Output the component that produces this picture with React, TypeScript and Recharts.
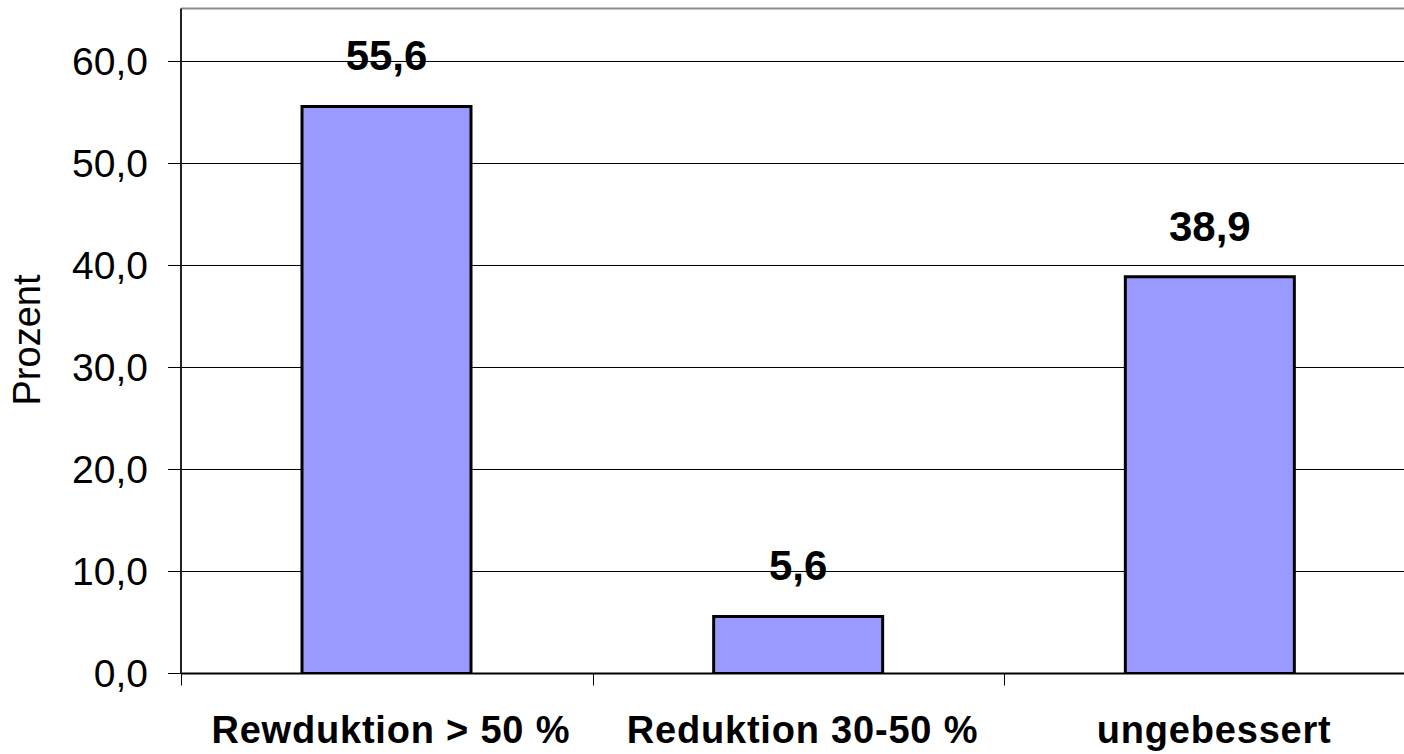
import { BarChart, Bar, XAxis, YAxis, CartesianGrid, LabelList, ReferenceLine } from "recharts";

// Ergebnis nach Behandlung, Anteil in Prozent
const categories = ["Rewduktion > 50 %", "Reduktion 30-50 %", "ungebessert"];
const percentages = [55.6, 5.6, 38.9];
const yTicks = [0, 10, 20, 30, 40, 50, 60];
const Y_MAX = 65.196;

const data = categories.map((name, i) => ({ name, value: percentages[i] }));

const FONT = "'Liberation Sans', Arial, Helvetica, sans-serif";

// chart geometry (half-pixel offsets keep the 1px grid lines sharp)
const CHART_W = 1420;
const CHART_H = 754;
const Y_AXIS_W = 181;
const MARGIN_RIGHT = 4;
const PLOT_W = CHART_W - Y_AXIS_W - MARGIN_RIGHT;
const HALF_BAND = PLOT_W / categories.length / 2;

const fmt = (v: number) => v.toFixed(1).replace(".", ",");

// category label centred under the bar, tick mark on the left band boundary
const CategoryTick = (props: any) => {
  const { x, y, payload } = props;
  const tx = Math.round(x - HALF_BAND) + 0.5;
  return (
    <g>
      <line x1={tx} y1={y} x2={tx} y2={y + 12} stroke="#000" strokeWidth={1} />
      <text
        x={x + 4}
        y={y + 69}
        textAnchor="middle"
        fontFamily={FONT}
        fontSize={38}
        fontWeight="bold"
        letterSpacing={0.8}
        fill="#000"
      >
        {payload.value}
      </text>
    </g>
  );
};

const AxisTitle = () => (
  <text
    x={27}
    y={340}
    transform="rotate(-90, 27, 340)"
    textAnchor="middle"
    dominantBaseline="central"
    fontFamily={FONT}
    fontSize={38}
    fill="#000"
  >
    Prozent
  </text>
);

export default function App() {
  return (
    <div
      style={{
        position: "fixed",
        left: 0,
        top: 0,
        width: 1404,
        height: 754,
        overflow: "hidden",
        background: "#fff",
      }}
    >
      <BarChart
        width={CHART_W}
        height={CHART_H}
        data={data}
        margin={{ top: 8.5, right: MARGIN_RIGHT, bottom: 0, left: 0 }}
      >
        <CartesianGrid vertical={false} stroke="#000" strokeWidth={1} />
        <ReferenceLine y={Y_MAX} stroke="#8c8c8c" strokeWidth={2} />
        <XAxis
          dataKey="name"
          height={80.5}
          axisLine={{ stroke: "#000", strokeWidth: 2 }}
          tickLine={false}
          tickSize={0}
          tickMargin={0}
          interval={0}
          tick={<CategoryTick />}
        />
        <YAxis
          width={Y_AXIS_W}
          domain={[0, Y_MAX]}
          ticks={yTicks}
          allowDataOverflow
          tickFormatter={fmt}
          axisLine={{ stroke: "#222", strokeWidth: 2 }}
          tickLine={{ stroke: "#000", strokeWidth: 1 }}
          tickSize={13}
          tickMargin={20}
          tick={{ fontFamily: FONT, fontSize: 39, fill: "#000" }}
          label={<AxisTitle />}
        />
        <Bar
          dataKey="value"
          fill="#9999FF"
          stroke="#000"
          strokeWidth={3}
          barSize={169}
          isAnimationActive={false}
        >
          <LabelList
            dataKey="value"
            position="top"
            offset={36}
            formatter={(v: any) => fmt(Number(v))}
            style={{ fontFamily: FONT, fontSize: 42, fontWeight: "bold", fill: "#000" }}
          />
        </Bar>
      </BarChart>
    </div>
  );
}
